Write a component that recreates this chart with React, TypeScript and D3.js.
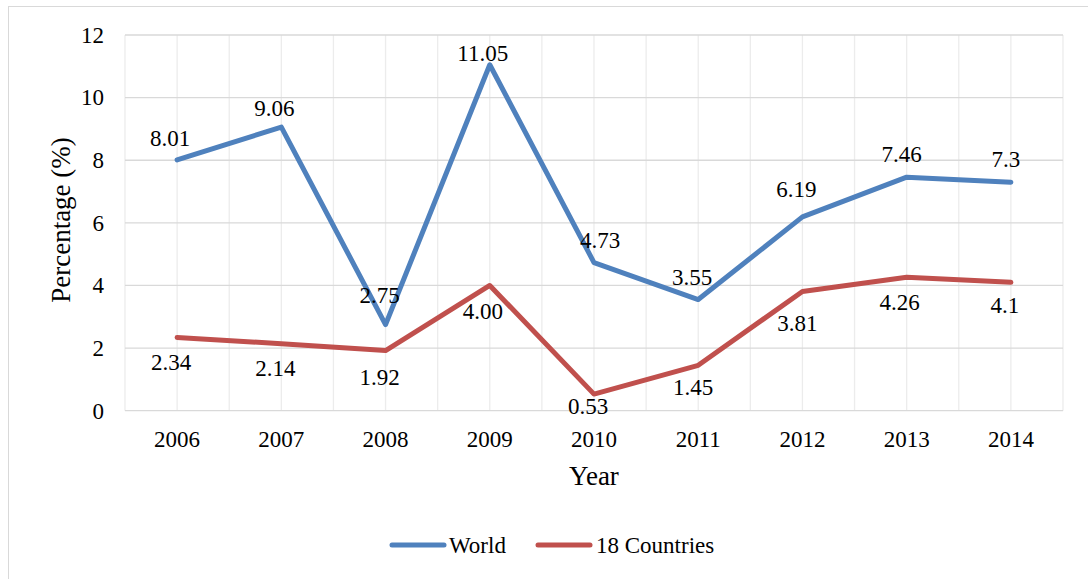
import React from "react";
import { scaleLinear, scalePoint, line } from "d3";

// data
const years = ["2006", "2007", "2008", "2009", "2010", "2011", "2012", "2013", "2014"];
const world = [8.01, 9.06, 2.75, 11.05, 4.73, 3.55, 6.19, 7.46, 7.3];
const countries18 = [2.34, 2.14, 1.92, 4.0, 0.53, 1.45, 3.81, 4.26, 4.1];
const worldLabels = ["8.01", "9.06", "2.75", "11.05", "4.73", "3.55", "6.19", "7.46", "7.3"];
const countryLabels = ["2.34", "2.14", "1.92", "4.00", "0.53", "1.45", "3.81", "4.26", "4.1"];
const yTicks = [0, 2, 4, 6, 8, 10, 12];

// label nudges (px) relative to the point, like the hand-placed excel labels
const worldDx = [-7, -7, -6, -7, 6, -6, -6, -5, -5];
const worldDy = [-14, -11, -22, -4, -15, -15, -20, -15, -15];
const countryDx = [-6, -6, -6, -7, -6, -5, -5, -7, -6];
const countryDy = [33, 32, 34, 34, 20, 30, 40, 33, 31];

const W = 1088;
const H = 579;
const left = 125, right = 1063, top = 35, bottom = 410.7;
const BLUE = "#4f81bd";
const RED = "#c0504d";
const FONT = "'Liberation Serif', Tinos, 'Times New Roman', Times, serif";

export default function App() {
  const x = scalePoint<string>().domain(years).range([left, right]).padding(0.5);
  const step = x.step();
  const y = scaleLinear().domain([0, 12]).range([bottom, top]);

  const mk = line<number>()
    .x((_, i) => x(years[i]) as number)
    .y((d) => y(d));

  // vertical grid: band edges + centres
  const vLines: number[] = [];
  for (let i = 0; i <= years.length; i++) vLines.push(left + i * step);
  years.forEach((yr) => vLines.push(x(yr) as number));

  const txt = { fontFamily: FONT };

  return (
    <svg width={W} height={H} style={{ position: "absolute", left: 0, top: 0 }}>
      <rect x={0} y={0} width={W} height={H} fill="#fff" />
      <line x1={8.5} y1={6} x2={8.5} y2={H} stroke="#d9d9d9" />
      <line x1={8} y1={6.5} x2={W} y2={6.5} stroke="#d9d9d9" />

      {vLines.map((v, i) => (
        <line key={"v" + i} x1={v} x2={v} y1={top} y2={bottom} stroke="#ececec" strokeWidth={1.3} />
      ))}
      {yTicks.map((t) => (
        <line key={"h" + t} x1={left} x2={right} y1={y(t)} y2={y(t)} stroke="#d9d9d9" strokeWidth={1.3} />
      ))}

      <g style={txt} fontSize={23}>
        {yTicks.map((t) => (
          <text key={"yt" + t} x={104} y={y(t)} dy="0.34em" textAnchor="end">
            {t}
          </text>
        ))}
        {years.map((yr) => (
          <text key={"xt" + yr} x={x(yr)} y={447} textAnchor="middle">
            {yr}
          </text>
        ))}
      </g>

      <g style={txt} fontSize={27}>
        <text x={594} y={485} textAnchor="middle">Year</text>
        <text transform="translate(70,220) rotate(-90)" textAnchor="middle">
          Percentage (%)
        </text>
      </g>

      <path d={mk(world) || ""} fill="none" stroke={BLUE} strokeWidth={5} strokeLinejoin="round" strokeLinecap="round" />
      <path d={mk(countries18) || ""} fill="none" stroke={RED} strokeWidth={5} strokeLinejoin="round" strokeLinecap="round" />

      <g style={txt} fontSize={23}>
        {world.map((v, i) => (
          <text key={"wl" + i} x={(x(years[i]) as number) + worldDx[i]} y={y(v) + worldDy[i]} textAnchor="middle">
            {worldLabels[i]}
          </text>
        ))}
        {countries18.map((v, i) => (
          <text key={"cl" + i} x={(x(years[i]) as number) + countryDx[i]} y={y(v) + countryDy[i]} textAnchor="middle">
            {countryLabels[i]}
          </text>
        ))}
      </g>

      <line x1={392} x2={444} y1={545} y2={545} stroke={BLUE} strokeWidth={5} strokeLinecap="round" />
      <line x1={538} x2={590} y1={545} y2={545} stroke={RED} strokeWidth={5} strokeLinecap="round" />
      <g style={txt} fontSize={23}>
        <text x={449} y={553}>World</text>
        <text x={596} y={553}>18 Countries</text>
      </g>
    </svg>
  );
}
